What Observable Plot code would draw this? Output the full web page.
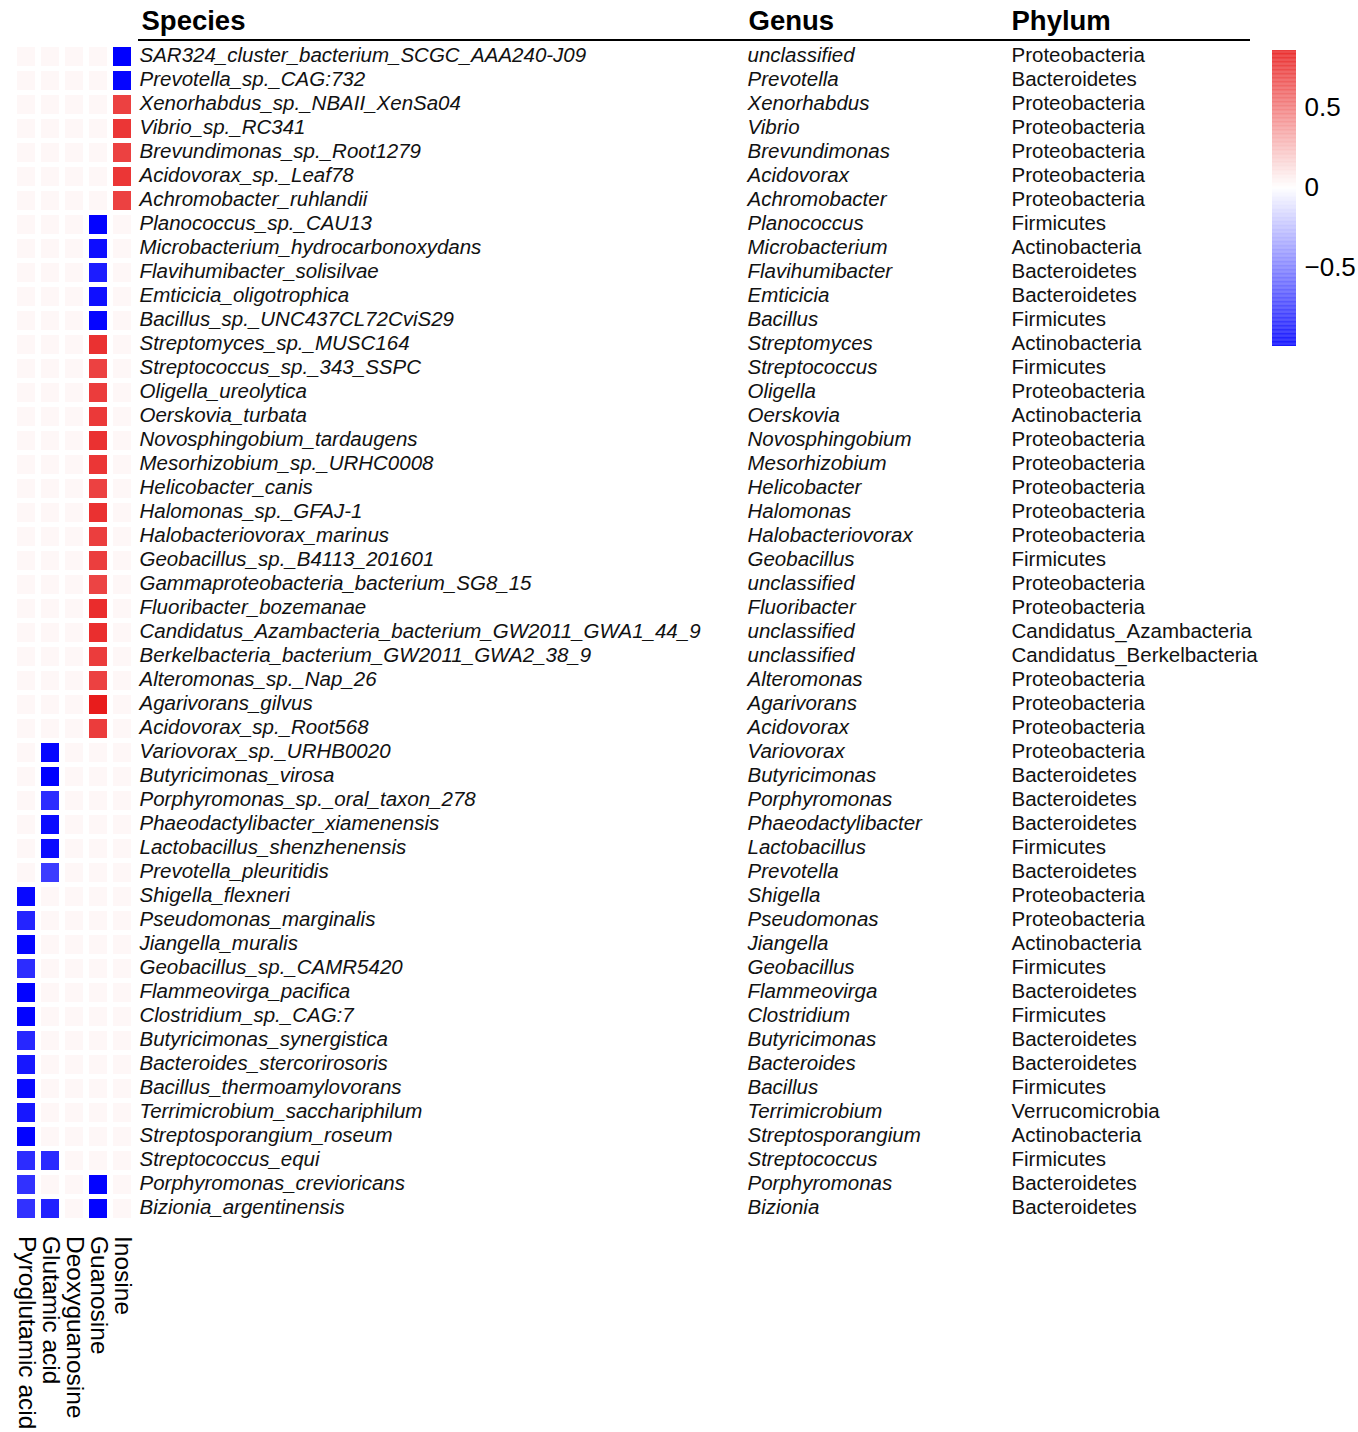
<!DOCTYPE html>
<html>
<head>
<meta charset="utf-8">
<script src="https://cdn.jsdelivr.net/npm/d3@7"></script>
<script src="https://cdn.jsdelivr.net/npm/@observablehq/plot@0.6"></script>
<style>
  body { margin: 0; background: #fff; }
  #wrap { position: relative; width: 1358px; height: 1432px; overflow: hidden; }
  #wrap svg { position: absolute; }
</style>
</head>
<body>
<div id="wrap"></div>
<script>
const metabolites = ["Pyroglutamic acid", "Glutamic acid", "Deoxyguanosine", "Guanosine", "Inosine"];

const species = [
  "SAR324_cluster_bacterium_SCGC_AAA240-J09", "Prevotella_sp._CAG:732", "Xenorhabdus_sp._NBAII_XenSa04",
  "Vibrio_sp._RC341", "Brevundimonas_sp._Root1279", "Acidovorax_sp._Leaf78", "Achromobacter_ruhlandii",
  "Planococcus_sp._CAU13", "Microbacterium_hydrocarbonoxydans", "Flavihumibacter_solisilvae",
  "Emticicia_oligotrophica", "Bacillus_sp._UNC437CL72CviS29", "Streptomyces_sp._MUSC164",
  "Streptococcus_sp._343_SSPC", "Oligella_ureolytica", "Oerskovia_turbata", "Novosphingobium_tardaugens",
  "Mesorhizobium_sp._URHC0008", "Helicobacter_canis", "Halomonas_sp._GFAJ-1", "Halobacteriovorax_marinus",
  "Geobacillus_sp._B4113_201601", "Gammaproteobacteria_bacterium_SG8_15", "Fluoribacter_bozemanae",
  "Candidatus_Azambacteria_bacterium_GW2011_GWA1_44_9", "Berkelbacteria_bacterium_GW2011_GWA2_38_9",
  "Alteromonas_sp._Nap_26", "Agarivorans_gilvus", "Acidovorax_sp._Root568", "Variovorax_sp._URHB0020",
  "Butyricimonas_virosa", "Porphyromonas_sp._oral_taxon_278", "Phaeodactylibacter_xiamenensis",
  "Lactobacillus_shenzhenensis", "Prevotella_pleuritidis", "Shigella_flexneri", "Pseudomonas_marginalis",
  "Jiangella_muralis", "Geobacillus_sp._CAMR5420", "Flammeovirga_pacifica", "Clostridium_sp._CAG:7",
  "Butyricimonas_synergistica", "Bacteroides_stercorirosoris", "Bacillus_thermoamylovorans",
  "Terrimicrobium_sacchariphilum", "Streptosporangium_roseum", "Streptococcus_equi",
  "Porphyromonas_crevioricans", "Bizionia_argentinensis"
];

const genus = [
  "unclassified", "Prevotella", "Xenorhabdus", "Vibrio", "Brevundimonas", "Acidovorax", "Achromobacter",
  "Planococcus", "Microbacterium", "Flavihumibacter", "Emticicia", "Bacillus", "Streptomyces",
  "Streptococcus", "Oligella", "Oerskovia", "Novosphingobium", "Mesorhizobium", "Helicobacter",
  "Halomonas", "Halobacteriovorax", "Geobacillus", "unclassified", "Fluoribacter", "unclassified",
  "unclassified", "Alteromonas", "Agarivorans", "Acidovorax", "Variovorax", "Butyricimonas",
  "Porphyromonas", "Phaeodactylibacter", "Lactobacillus", "Prevotella", "Shigella", "Pseudomonas",
  "Jiangella", "Geobacillus", "Flammeovirga", "Clostridium", "Butyricimonas", "Bacteroides", "Bacillus",
  "Terrimicrobium", "Streptosporangium", "Streptococcus", "Porphyromonas", "Bizionia"
];

const phylum = [
  "Proteobacteria", "Bacteroidetes", "Proteobacteria", "Proteobacteria", "Proteobacteria", "Proteobacteria",
  "Proteobacteria", "Firmicutes", "Actinobacteria", "Bacteroidetes", "Bacteroidetes", "Firmicutes",
  "Actinobacteria", "Firmicutes", "Proteobacteria", "Actinobacteria", "Proteobacteria", "Proteobacteria",
  "Proteobacteria", "Proteobacteria", "Proteobacteria", "Firmicutes", "Proteobacteria", "Proteobacteria",
  "Candidatus_Azambacteria", "Candidatus_Berkelbacteria", "Proteobacteria", "Proteobacteria",
  "Proteobacteria", "Proteobacteria", "Bacteroidetes", "Bacteroidetes", "Bacteroidetes", "Firmicutes",
  "Bacteroidetes", "Proteobacteria", "Proteobacteria", "Actinobacteria", "Firmicutes", "Bacteroidetes",
  "Firmicutes", "Bacteroidetes", "Bacteroidetes", "Firmicutes", "Verrucomicrobia", "Actinobacteria",
  "Firmicutes", "Bacteroidetes", "Bacteroidetes"
];

// correlation values, one array per metabolite (rows in species order)
const pyroglutamic = [
  0.03, 0.03, 0.03, 0.03, 0.03, 0.03, 0.03,
  0.03, 0.03, 0.03, 0.03, 0.03, 0.03, 0.03,
  0.03, 0.03, 0.03, 0.03, 0.03, 0.03, 0.03,
  0.03, 0.03, 0.03, 0.03, 0.03, 0.03, 0.03,
  0.03, 0.03, 0.03, 0.03, 0.03, 0.03, 0.03,
  -0.96, -0.85, -0.97, -0.82, -0.98, -0.98, -0.84,
  -0.90, -0.96, -0.90, -0.98, -0.82, -0.80, -0.80
];
const glutamic = [
  0.03, 0.03, 0.03, 0.03, 0.03, 0.03, 0.03,
  0.03, 0.03, 0.03, 0.03, 0.03, 0.03, 0.03,
  0.03, 0.03, 0.03, 0.03, 0.03, 0.03, 0.03,
  0.03, 0.03, 0.03, 0.03, 0.03, 0.03, 0.03,
  0.03, -0.97, -0.99, -0.82, -0.95, -0.95, -0.76,
  0.03, 0.03, 0.03, 0.03, 0.03, 0.03, 0.03,
  0.03, 0.03, 0.03, 0.03, -0.83, 0.03, -0.86
];
const deoxyguanosine = [
  0.03, 0.03, 0.03, 0.03, 0.03, 0.03, 0.03,
  0.03, 0.03, 0.03, 0.03, 0.03, 0.03, 0.03,
  0.03, 0.03, 0.03, 0.03, 0.03, 0.03, 0.03,
  0.03, 0.03, 0.03, 0.03, 0.03, 0.03, 0.03,
  0.03, 0.03, 0.03, 0.03, 0.03, 0.03, 0.03,
  0.03, 0.03, 0.03, 0.03, 0.03, 0.03, 0.03,
  0.03, 0.03, 0.03, 0.03, 0.03, 0.03, 0.03
];
const guanosine = [
  0.03, 0.03, 0.03, 0.03, 0.03, 0.03, 0.03,
  -0.98, -0.94, -0.88, -0.93, -0.97, 0.78, 0.72,
  0.74, 0.75, 0.78, 0.76, 0.72, 0.78, 0.73,
  0.73, 0.71, 0.80, 0.79, 0.74, 0.72, 0.86,
  0.74, 0.03, 0.03, 0.03, 0.03, 0.03, 0.03,
  0.03, 0.03, 0.03, 0.03, 0.03, 0.03, 0.03,
  0.03, 0.03, 0.03, 0.03, 0.03, -0.98, -0.98
];
const inosine = [
  -0.99, -0.97, 0.72, 0.76, 0.72, 0.76, 0.72,
  0.03, 0.03, 0.03, 0.03, 0.03, 0.03, 0.03,
  0.03, 0.03, 0.03, 0.03, 0.03, 0.03, 0.03,
  0.03, 0.03, 0.03, 0.03, 0.03, 0.03, 0.03,
  0.03, 0.03, 0.03, 0.03, 0.03, 0.03, 0.03,
  0.03, 0.03, 0.03, 0.03, 0.03, 0.03, 0.03,
  0.03, 0.03, 0.03, 0.03, 0.03, 0.03, 0.03
];

const headers = ["Species", "Genus", "Phylum"];
const colorDomain = [-0.99, 0, 0.86];
const colorTicks = [-0.5, 0, 0.5];

// ---- build table for the library ----
const seriesByMetabolite = [pyroglutamic, glutamic, deoxyguanosine, guanosine, inosine];
const cells = [];
metabolites.forEach((m, j) => {
  species.forEach((s, i) => cells.push({metabolite: m, species: s, value: seriesByMetabolite[j][i]}));
});
const rows = species.map((s, i) => ({species: s, genus: genus[i], phylum: phylum[i]}));

const colorScale = {
  type: "linear",
  domain: colorDomain,
  range: ["#0000ff", "#ffffff", "#e81c1c"],
  interpolate: "rgb"
};

const tableFont = "'Liberation Sans', Arial, sans-serif";
const headFont = "'Liberation Sans', Arial, sans-serif";
const lastCol = metabolites[metabolites.length - 1];
const firstRow = species[0];
const lastRow = species[species.length - 1];

const main = Plot.plot({
  width: 1358,
  height: 1432,
  margin: 0,
  x: {type: "band", domain: metabolites, range: [14.5, 134.5], paddingInner: 0.23, paddingOuter: 0.115, axis: null},
  y: {type: "band", domain: species, range: [42.6, 1222.5], paddingInner: 0.2, paddingOuter: 0.1, axis: null},
  color: colorScale,
  style: {background: "transparent", overflow: "visible"},
  marks: [
    Plot.cell(cells, {x: "metabolite", y: "species", fill: "value"}),
    // species column
    Plot.text(rows, {x: () => lastCol, y: "species", text: "species", textAnchor: "start", dx: 17, dy: -1.5,
      fontSize: 20.5, fontStyle: "italic", fontFamily: tableFont, fill: "#111"}),
    // genus column
    Plot.text(rows, {x: () => lastCol, y: "species", text: "genus", textAnchor: "start", dx: 625, dy: -1.5,
      fontSize: 20.5, fontStyle: "italic", fontFamily: tableFont, fill: "#111"}),
    // phylum column
    Plot.text(rows, {x: () => lastCol, y: "species", text: "phylum", textAnchor: "start", dx: 889, dy: -2,
      fontSize: 20.5, fontFamily: tableFont, fill: "#111"}),
    // headers
    Plot.text([headers[0]], {x: () => lastCol, y: () => firstRow, text: d => d, textAnchor: "start", dx: 19, dy: -36,
      fontSize: 27.5, fontWeight: "bold", fontFamily: headFont, fill: "#000"}),
    Plot.text([headers[1]], {x: () => lastCol, y: () => firstRow, text: d => d, textAnchor: "start", dx: 626, dy: -36,
      fontSize: 27.5, fontWeight: "bold", fontFamily: headFont, fill: "#000"}),
    Plot.text([headers[2]], {x: () => lastCol, y: () => firstRow, text: d => d, textAnchor: "start", dx: 889, dy: -36,
      fontSize: 27.5, fontWeight: "bold", fontFamily: headFont, fill: "#000"}),
    Plot.ruleY([firstRow], {y: d => d, dy: -17, stroke: "#000", strokeWidth: 2, insetLeft: 138, insetRight: 108}),
    // column labels (rotated)
    Plot.text(metabolites, {x: d => d, y: () => lastRow, text: d => d, rotate: 90, textAnchor: "start", dy: 27,
      fontSize: 24.5, fontFamily: headFont, fill: "#000"})
  ]
});
main.style.left = "0px";
main.style.top = "0px";

const steps = d3.range(colorDomain[0], colorDomain[2], 0.005);
const legend = Plot.plot({
  width: 108,
  height: 330,
  marginLeft: 22,
  marginRight: 62,
  marginTop: 20,
  marginBottom: 14,
  x: {domain: [0, 1], axis: null},
  y: {domain: [colorDomain[0], colorDomain[2]], ticks: colorTicks, tickSize: 0, tickPadding: 8, axis: "right", label: null,
      tickFormat: d => String(d).replace("-", "\u2212")},
  color: colorScale,
  style: {background: "transparent", fontSize: "26px", fontFamily: headFont, color: "#000", overflow: "visible"},
  marks: [
    Plot.rect(steps, {x1: 0, x2: 1, y1: d => d, y2: d => Math.min(d + 0.0055, colorDomain[2]), fill: d => d + 0.0025})
  ]
});
legend.style.left = "1250px";
legend.style.top = "30px";

const wrap = document.getElementById("wrap");
wrap.appendChild(main);
wrap.appendChild(legend);
</script>
</body>
</html>
